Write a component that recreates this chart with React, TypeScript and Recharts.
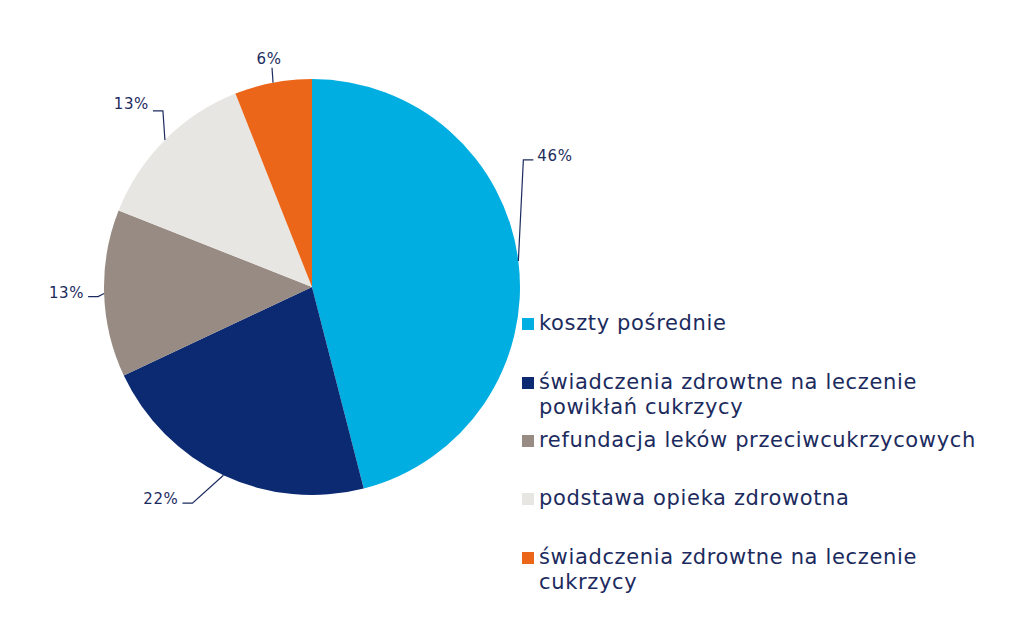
import React from 'react';
import { PieChart, Pie, Cell, Legend } from 'recharts';

const categories = [
  'koszty pośrednie',
  'świadczenia zdrowtne na leczenie powikłań cukrzycy',
  'refundacja leków przeciwcukrzycowych',
  'podstawa opieka zdrowotna',
  'świadczenia zdrowtne na leczenie cukrzycy',
];
const values = [46, 22, 13, 13, 6];
const labels = ['46%', '22%', '13%', '13%', '6%'];
const colors = ['#00AEE1', '#0B2A72', '#978B83', '#E8E6E2', '#EC6619'];

// leader-line offsets relative to the arc anchor point (styling only)
const leader = [
  { ex: 5, ey: -101, hx: 15, tx: 19, ty: 1, anchor: 'start' },
  { ex: -31, ey: 28, hx: -41, tx: -45, ty: 1, anchor: 'end' },
  { ex: -6, ey: 3, hx: -16, tx: -20, ty: 1, anchor: 'end' },
  { ex: -2, ey: -29, hx: -12, tx: -16, ty: -2, anchor: 'end' },
  { ex: -1, ey: -15, hx: -1, tx: -4, ty: -4, anchor: 'middle' },
];

const data = categories.map((name, i) => ({ name, value: values[i], label: labels[i] }));

const TEXT = '#1C2B5E';
const RAD = Math.PI / 180;

const renderLabel = (props: any) => {
  const { cx, cy, midAngle, outerRadius, index } = props;
  const ax = cx + outerRadius * Math.cos(-midAngle * RAD);
  const ay = cy + outerRadius * Math.sin(-midAngle * RAD);
  const l = leader[index];
  const ex = ax + l.ex;
  const ey = ay + l.ey;
  const hx = ax + l.hx;
  return (
    <g key={`lbl-${index}`}>
      <polyline
        points={`${ax},${ay} ${ex},${ey} ${hx},${ey}`}
        fill="none"
        stroke={TEXT}
        strokeWidth={1.2}
      />
      <text
        x={ax + l.tx}
        y={ey + l.ty}
        textAnchor={l.anchor as any}
        fill={TEXT}
        fontSize={15}
        letterSpacing={0.6}
        fontFamily="DejaVu Sans, Verdana, sans-serif"
      >
        {labels[index]}
      </text>
    </g>
  );
};

const legendTop = [311, 370, 428, 486, 545];

const renderLegend = () => (
  <div style={{ position: 'relative', width: 500, height: 300 }}>
    {categories.map((c, i) => (
      <div
        key={c}
        style={{
          position: 'absolute',
          left: 0,
          top: legendTop[i] - 311,
          display: 'flex',
          alignItems: 'flex-start',
        }}
      >
        <div
          style={{
            width: 12,
            height: 12,
            background: colors[i],
            marginTop: 7,
            marginRight: 5,
            flex: 'none',
          }}
        />
        <div
          style={{
            width: 445,
            fontFamily: 'DejaVu Sans, Verdana, sans-serif',
            fontSize: 21,
            letterSpacing: 0.65,
            lineHeight: '24.5px',
            color: TEXT,
          }}
        >
          {c}
        </div>
      </div>
    ))}
  </div>
);

export default function App() {
  return (
    <div style={{ position: 'absolute', left: 0, top: 0, width: 1024, height: 628, background: '#fff' }}>
      <PieChart width={1024} height={628} margin={{ top: 0, right: 0, bottom: 0, left: 0 }}>
        <Pie
          data={data}
          dataKey="value"
          nameKey="name"
          cx={312}
          cy={287}
          outerRadius={208}
          startAngle={90}
          endAngle={-270}
          stroke="none"
          label={renderLabel}
          labelLine={false}
          isAnimationActive={false}
        >
          {data.map((d, i) => (
            <Cell key={d.name} fill={colors[i]} />
          ))}
        </Pie>
        <Legend
          content={renderLegend}
          wrapperStyle={{ position: 'absolute', left: 522, top: 311, width: 500 }}
        />
      </PieChart>
    </div>
  );
}
